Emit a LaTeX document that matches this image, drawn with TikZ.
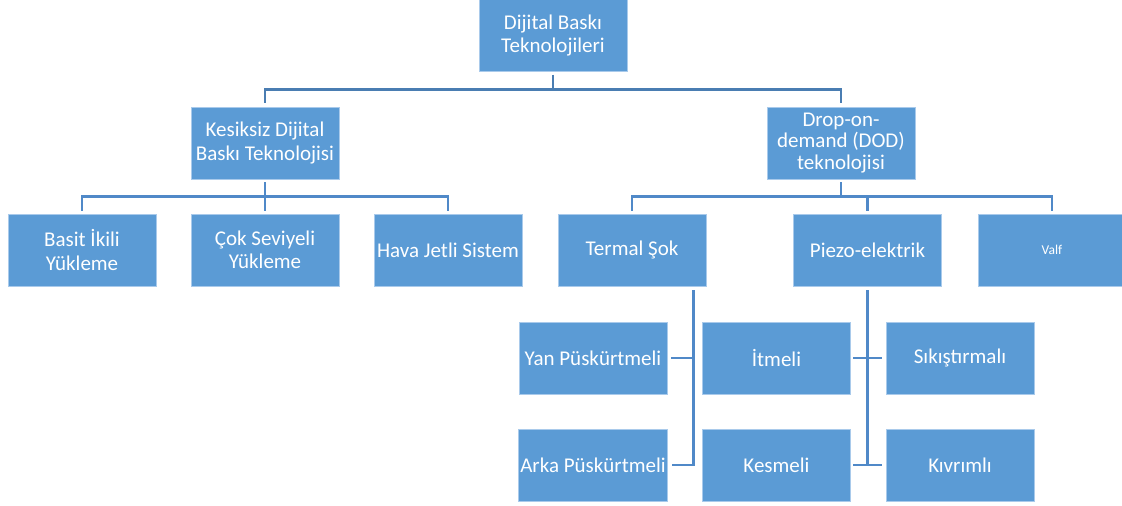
\documentclass[tikz,border=0pt]{standalone}
\usepackage{fontspec}
\setmainfont{Carlito}
\definecolor{boxfill}{HTML}{5B9BD5}
\definecolor{boxedge}{HTML}{A9CAEB}
\definecolor{lineA}{HTML}{4A7DB2}
\definecolor{lineB}{HTML}{5089C8}
\tikzset{
  box/.style={rectangle, fill=boxfill, draw=boxedge, line width=0.7pt,
    minimum width=148pt, minimum height=72pt, inner sep=2pt,
    text=white, align=center, font=\fontsize{21}{23.5}\selectfont},
  connA/.style={draw=lineA, line width=2.6pt},
  connB/.style={draw=lineB, line width=2.6pt},
}
\begin{document}
\begin{tikzpicture}[x=1pt,y=-1pt]
\useasboundingbox (0,0) rectangle (1122,506);
% level 0
\node[box] (top) at (553,35.5) {Dijital Baskı\\Teknolojileri};
% level 1
\node[box] (kes) at (265,143) {Kesiksiz Dijital\\Baskı Teknolojisi};
\node[box] (dod) at (841,143) {Drop-on-\\[-2pt]demand (DOD)\\[-2pt]teknolojisi};
% level 2
\node[box] (basit) at (82,250) {Basit İkili\\Yükleme};
\node[box] (cok) at (265,250) {Çok Seviyeli\\Yükleme};
\node[box] (hava) at (448,250) {Hava Jetli Sistem};
\node[box] (termal) at (632,250) {Termal Şok};
\node[box] (piezo) at (867.5,250) {Piezo-elektrik};
\node[box, font=\fontsize{13.5}{16}\selectfont] (valf) at (1052,250) {Valf};
% level 3
\node[box] (yan) at (593,358) {Yan Püskürtmeli};
\node[box] (arka) at (593,465) {Arka Püskürtmeli};
\node[box] (itmeli) at (776.5,358) {İtmeli};
\node[box] (kesmeli) at (776.5,465) {Kesmeli};
\node[box] (sik) at (960,358) {Sıkıştırmalı};
\node[box] (kiv) at (960,465) {Kıvrımlı};
% connectors level 0 -> 1
\draw[connA] ([yshift=-3pt]top.south) -- ++(0,14.5) -| ([yshift=4pt]kes.north);
\draw[connA] ([yshift=-3pt]top.south) -- ++(0,14.5) -| ([yshift=4pt]dod.north);
% connectors level 1 -> 2
\draw[connB] ([yshift=-3pt]kes.south) -- ++(0,14) -| ([yshift=3pt]basit.north);
\draw[connB] ([yshift=-3pt]kes.south) -- ++(0,14) -| ([yshift=3pt]cok.north);
\draw[connB] ([yshift=-3pt]kes.south) -- ++(0,14) -| ([yshift=3pt]hava.north);
\draw[connB] ([yshift=-3pt]dod.south) -- ++(0,14) -| ([yshift=3pt]termal.north);
\draw[connB] ([yshift=-3pt]dod.south) -- ++(0,14) -| ([yshift=3pt]piezo.north);
\draw[connB] ([yshift=-3pt]dod.south) -- ++(0,14) -| ([yshift=3pt]valf.north);
% connectors level 2 -> 3
\coordinate (tdrop) at ([xshift=-13pt,yshift=-4pt]termal.south east);
\draw[connB] (tdrop) |- ([xshift=4pt]arka.east);
\draw[connB] (tdrop) |- ([xshift=4pt]yan.east);
\draw[connB] ([yshift=-4pt]piezo.south) |- ([xshift=2pt]itmeli.east);
\draw[connB] ([yshift=-4pt]piezo.south) |- ([xshift=-4pt]sik.west);
\draw[connB] ([yshift=-4pt]piezo.south) |- ([xshift=2pt]kesmeli.east);
\draw[connB] ([yshift=-4pt]piezo.south) |- ([xshift=-4pt]kiv.west);
\end{tikzpicture}
\end{document}
